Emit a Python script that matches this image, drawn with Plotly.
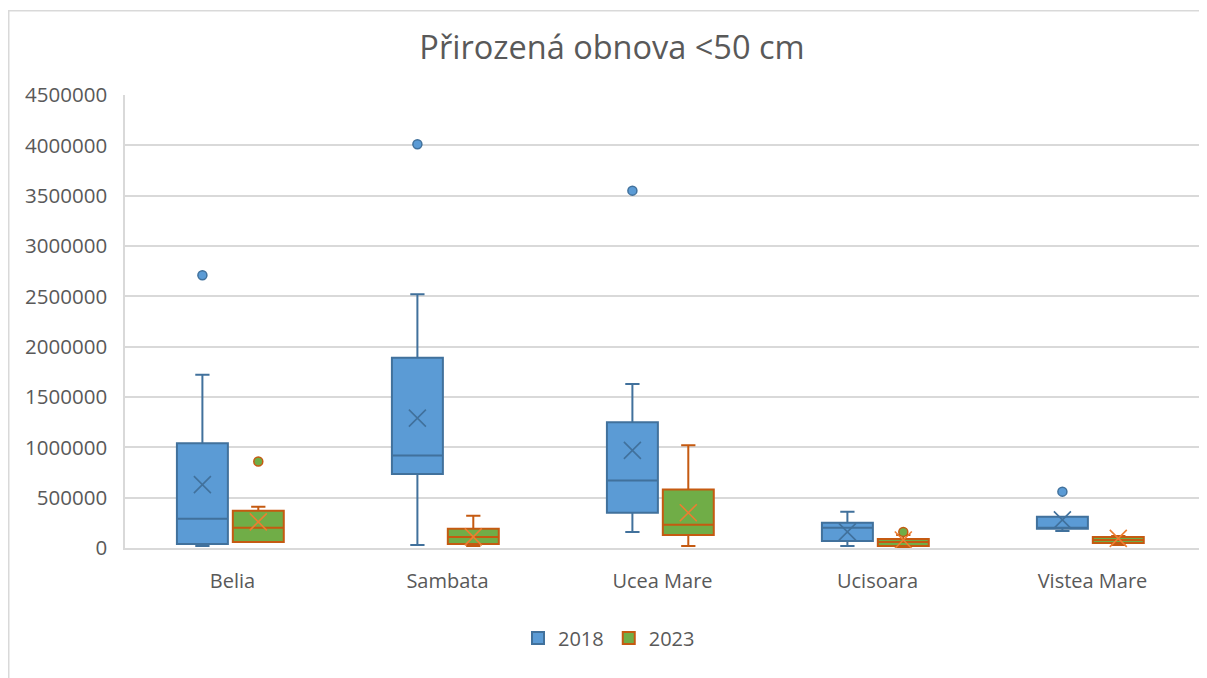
import plotly.graph_objects as go

categories = ["Belia", "Sambata", "Ucea Mare", "Ucisoara", "Vistea Mare"]

# 2018 statistics
q1_2018 = [40000, 735000, 350000, 70000, 190000]
med_2018 = [290000, 920000, 670000, 200000, 200000]
q3_2018 = [1040000, 1890000, 1250000, 250000, 310000]
lo_2018 = [20000, 30000, 160000, 20000, 170000]
hi_2018 = [1720000, 2520000, 1630000, 360000, 310000]
mean_2018 = [630000, 1290000, 970000, 160000, 280000]
out_2018_cat = ["Belia", "Sambata", "Ucea Mare", "Vistea Mare"]
out_2018_val = [2710000, 4010000, 3550000, 560000]

# 2023 statistics
q1_2023 = [60000, 40000, 130000, 20000, 50000]
med_2023 = [200000, 110000, 230000, 60000, 80000]
q3_2023 = [370000, 190000, 580000, 90000, 110000]
lo_2023 = [60000, 20000, 20000, 5000, 30000]
hi_2023 = [410000, 320000, 1020000, 130000, 120000]
mean_2023 = [260000, 110000, 350000, 80000, 95000]
out_2023_cat = ["Belia", "Ucisoara"]
out_2023_val = [860000, 160000]

idx = {c: i for i, c in enumerate(categories)}
BW = 0.237

blue_fill = "#5B9BD5"
blue_line = "#41719C"
green_fill = "#70AD47"
orange_line = "#C55A11"
orange_x = "#ED7D31"

# page is drawn with an 8px body margin -> figure sized to fit window
W, H = 1199, 670
L, R, T, B = 117, 7, 87, 130
PW, PH = W - L - R, H - T - B

fig = go.Figure()

series = [
    ("2018", -0.14, q1_2018, med_2018, q3_2018, lo_2018, hi_2018, mean_2018,
     out_2018_cat, out_2018_val, blue_fill, blue_line, blue_line),
    ("2023", 0.12, q1_2023, med_2023, q3_2023, lo_2023, hi_2023, mean_2023,
     out_2023_cat, out_2023_val, green_fill, orange_line, orange_x),
]

for name, off, q1, med, q3, lo, hi, mean, oc, ov, fill, line, xcol in series:
    xs = [i + off for i in range(len(categories))]
    fig.add_trace(go.Box(
        name=name, x=xs, q1=q1, median=med, q3=q3,
        lowerfence=lo, upperfence=hi,
        width=BW, whiskerwidth=0.28,
        fillcolor=fill, line=dict(color=line, width=2),
        boxpoints=False, legendgroup=name, showlegend=True,
    ))
    fig.add_trace(go.Scatter(
        x=xs, y=mean, mode="markers", legendgroup=name, showlegend=False,
        marker=dict(symbol="x-thin", size=17, line=dict(color=xcol, width=1.6)),
        hoverinfo="skip",
    ))
    fig.add_trace(go.Scatter(
        x=[idx[c] + off for c in oc], y=ov, mode="markers",
        legendgroup=name, showlegend=False,
        marker=dict(symbol="circle", size=9, color=fill,
                    line=dict(color=line, width=1.5)),
    ))

fig.update_layout(
    width=W, height=H,
    margin=dict(l=L, r=R, t=T, b=B),
    paper_bgcolor="white", plot_bgcolor="white",
    font=dict(family="Open Sans", color="#595959", size=20),
    title=dict(text="Přirozená obnova <50 cm", x=(612 - 8) / W, xanchor="center",
               y=1 - 40 / H, yanchor="middle",
               font=dict(size=32.5, color="#595959", family="Open Sans")),
    showlegend=True,
    legend=dict(orientation="h", x=(609 - 8 - L) / PW, xanchor="center",
                y=-(638 - 548) / PH, yanchor="middle",
                font=dict(size=20, color="#595959"),
                itemwidth=30, traceorder="normal"),
    xaxis=dict(range=[-0.5, len(categories) - 0.5],
               tickvals=list(range(len(categories))), ticktext=categories,
               showgrid=False, zeroline=False, showline=True,
               linecolor="#d9d9d9", linewidth=1.5, ticks="",
               ticklabelstandoff=14, tickfont=dict(size=20)),
    yaxis=dict(range=[0, 4500000], dtick=500000, tickformat="d",
               showgrid=True, gridcolor="#d9d9d9", gridwidth=1.5,
               zeroline=False, showline=True, linecolor="#d9d9d9",
               linewidth=1.5, ticks="", ticklabelstandoff=12,
               tickfont=dict(size=20.5)),
    shapes=[dict(type="rect", xref="paper", yref="paper",
                 x0=(0.75 - L) / PW, x1=(W + 10 - L) / PW,
                 y0=-(H + 10 - T - PH) / PH, y1=(T + PH - 2.75) / PH,
                 line=dict(color="#d9d9d9", width=1.5), layer="below")],
)

fig.write_html("out.html")
